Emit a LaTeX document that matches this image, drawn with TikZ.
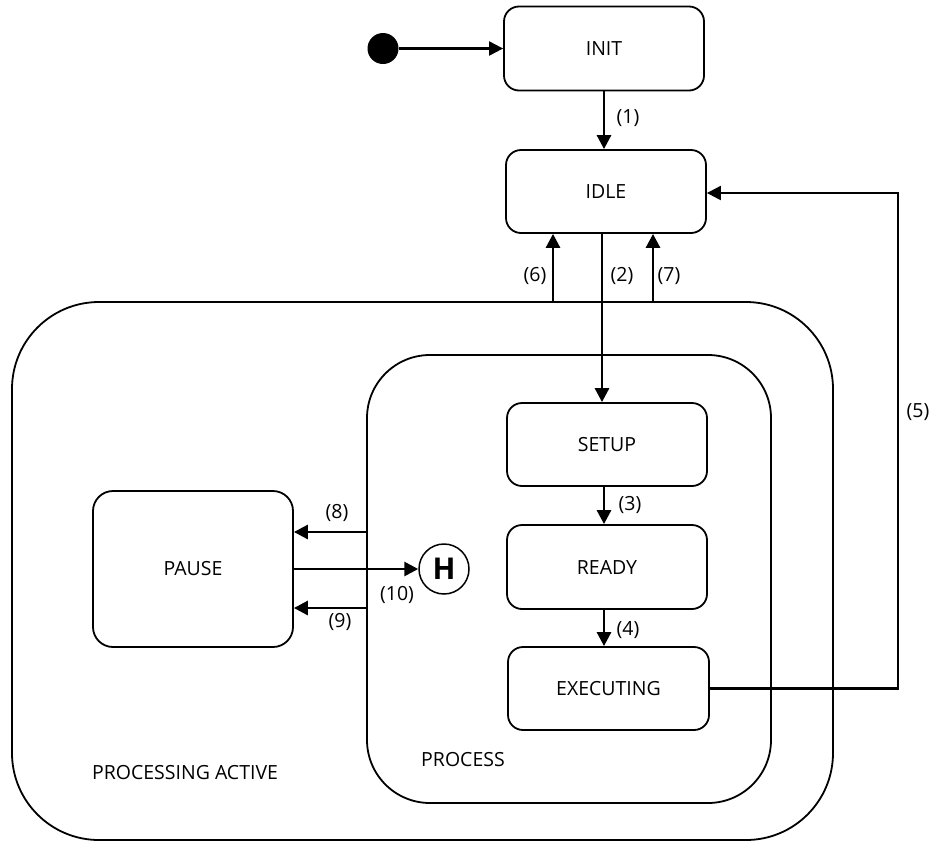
\documentclass[tikz,border=0pt]{standalone}
\usepackage{fontspec}
\setmainfont{Open Sans}
\usetikzlibrary{arrows.meta}
\begin{document}
\begin{tikzpicture}[x=1pt,y=-1pt,
  every node/.style={font=\fontsize{19.5}{22}\selectfont},
  statebox/.style={draw, rounded corners=15pt, line width=1.8pt, minimum width=200pt, minimum height=83pt, inner sep=0pt},
  region/.style={draw, line width=1.8pt, inner sep=0pt},
  arr/.style={line width=2.8pt, -{Triangle[length=14pt,width=14pt]}},
  thinarr/.style={line width=2.1pt, -{Triangle[length=14pt,width=14pt]}},
  lbl/.style={inner sep=0pt}]
\useasboundingbox (0,0) rectangle (936,841);
% containers
\node[region, rounded corners=87pt, minimum width=821pt, minimum height=538pt] (outer) at (422.5,571) {};
\node[region, rounded corners=63pt, minimum width=404pt, minimum height=448pt] (inner) at (569,579) {};
% states
\node[statebox, minimum height=84pt] (init) at (604,48.5) {INIT};
\node[statebox] (idle) at (606,191.5) {IDLE};
\node[statebox] (setup) at (607,444.5) {SETUP};
\node[statebox, minimum height=84pt] (ready) at (607,567) {READY};
\node[statebox, minimum width=201pt] (exec) at (608.5,688.5) {EXECUTING};
\node[statebox, minimum height=156pt, rounded corners=20pt] (pause) at (193,569) {PAUSE};
\node[draw, circle, line width=1.5pt, minimum size=50pt, inner sep=0pt, font=\fontsize{30}{32}\selectfont\bfseries] (hist) at (444,569) {H};
\node[circle, fill=black, minimum size=31pt, inner sep=0pt] (start) at (383,48.5) {};
\coordinate (c5) at (898,0);
% transitions
\draw[thinarr] (start) -- (init.west);
\draw[arr] (init.south) -- (init.south |- idle.north);
\draw[arr] ([xshift=-4pt]idle.south) -- ([xshift=-4pt]idle.south |- setup.north);
\draw[arr] ([xshift=-53pt]idle.south |- outer.north) -- ([xshift=-53pt]idle.south);
\draw[arr] ([xshift=47pt]idle.south |- outer.north) -- ([xshift=47pt]idle.south);
\draw[arr] ([xshift=-3pt]setup.south) -- ([xshift=-3pt]setup.south |- ready.north);
\draw[arr] ([xshift=-3pt]ready.south) -- ([xshift=-3pt]ready.south |- exec.north);
\draw[thinarr] (exec.east) -- (exec.east -| c5) -- ([yshift=-1.5pt]idle.east -| c5) -- ([yshift=-1.5pt]idle.east);
\draw[arr] ([yshift=37pt]pause.east -| inner.west) -- ([yshift=37pt]pause.east);
\draw[arr] ([yshift=-39pt]pause.east -| inner.west) -- ([yshift=-39pt]pause.east);
\draw[arr] (pause.east) -- (hist.west);
% labels
\node[lbl] (l1) at (628,118) {(1)};
\node[lbl] (l2) at (622,276) {(2)};
\node[lbl] (l6) at (535,276) {(6)};
\node[lbl] (l7) at (669,276) {(7)};
\node[lbl] (l3) at (630,505) {(3)};
\node[lbl] (l4) at (628,630) {(4)};
\node[lbl] (l5) at (918,412) {(5)};
\node[lbl] (l8) at (337,513) {(8)};
\node[lbl] (l10) at (397,595) {(10)};
\node[lbl] (l9) at (340,622) {(9)};
\node[lbl] (pa) at (185,773) {PROCESSING ACTIVE};
\node[lbl] (pr) at (463,760) {PROCESS};
\end{tikzpicture}
\end{document}
